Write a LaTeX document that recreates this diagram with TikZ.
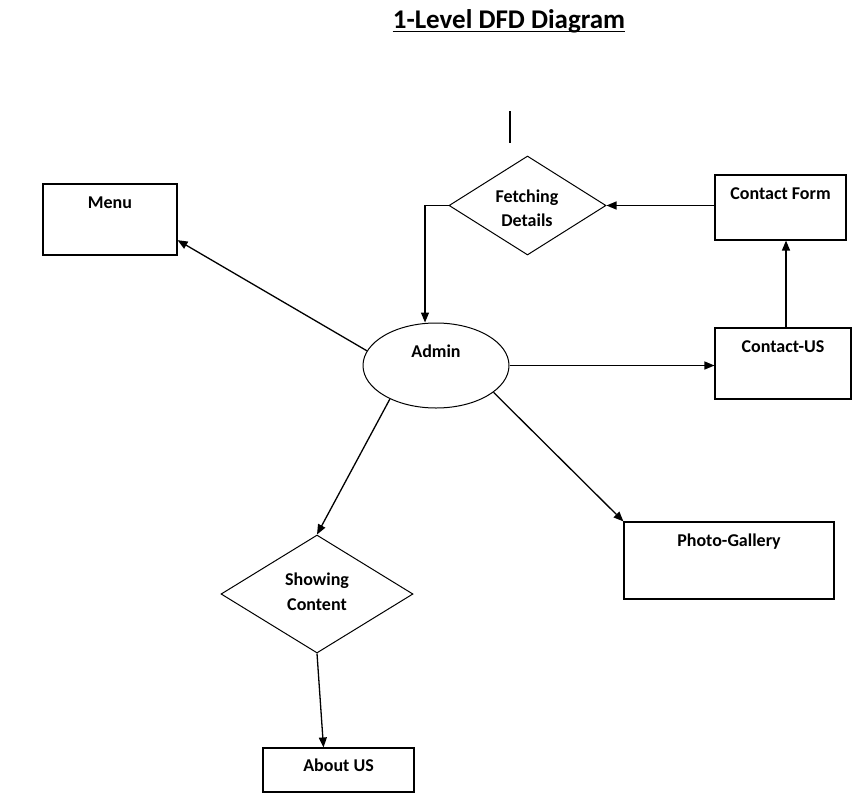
\documentclass[tikz,border=0pt]{standalone}
\usepackage{fontspec}
\setmainfont{Carlito}
\usetikzlibrary{shapes.geometric,arrows.meta}
\tikzset{
  box/.style={draw, line width=1.1pt, rectangle, inner sep=0pt},
  dia/.style={draw, line width=1pt, diamond, inner sep=0pt},
  ell/.style={draw, line width=1pt, ellipse, inner sep=0pt},
  lbl/.style={font=\fontsize{18}{21}\selectfont\bfseries, anchor=base, inner sep=0pt},
  arr/.style={line width=1.3pt, -{Triangle[length=10pt,width=8pt]}},
  plain/.style={line width=1.3pt},
}
\begin{document}
\begin{tikzpicture}[x=1pt,y=-1pt]
\useasboundingbox (0,0) rectangle (866,803);
% title
\node[font=\fontsize{27}{32}\selectfont\bfseries, anchor=base, inner sep=0pt] (title) at (509,28) {1-Level DFD Diagram};
\draw[line width=1.8pt] (title.base west |- 0,31.5) -- (title.base east |- 0,31.5);
% stray mark
\coordinate (s1) at (510,111);
\coordinate (s2) at (510,143);
\draw[line width=2pt] (s1) -- (s2);
% nodes
\node[box, minimum width=134pt, minimum height=71pt] (menu) at (110,219.5) {};
\node[lbl] (menuT) at (110,208) {Menu};
\node[box, minimum width=131pt, minimum height=65pt] (cform) at (780.5,207.5) {};
\node[lbl] (cformT) at (780.5,199) {Contact Form};
\node[dia, minimum width=157pt, minimum height=99pt] (fetch) at (527.5,205.5) {};
\node[lbl] (fetchT1) at (527,202.5) {Fetching};
\node[lbl] (fetchT2) at (527,226.5) {Details};
\node[ell, minimum width=146pt, minimum height=85pt] (admin) at (436,365.5) {};
\node[lbl] (adminT) at (436,357.5) {Admin};
\node[box, minimum width=136pt, minimum height=71pt] (cus) at (783,363.5) {};
\node[lbl] (cusT) at (783,352.5) {Contact-US};
\node[box, minimum width=210pt, minimum height=77pt] (photo) at (729,560.5) {};
\node[lbl] (photoT) at (729,546.5) {Photo-Gallery};
\node[dia, minimum width=192pt, minimum height=118pt] (show) at (317,594) {};
\node[lbl] (showT1) at (317,585.5) {Showing};
\node[lbl] (showT2) at (317,610.5) {Content};
\node[box, minimum width=151pt, minimum height=44pt] (about) at (338.5,770) {};
\node[lbl] (aboutT) at (338.5,771.5) {About US};
% connectors
\draw[arr] (admin.168) -- (menu.-17.8);
\draw[arr] (admin.east) -- (admin.east -| cus.west);
\draw[arr] (admin.-25) -- (photo.north west);
\draw[arr] (admin.-144.5) -- (show.north);
\draw[arr] (fetch.west) -| ([xshift=-11pt]admin.north);
\draw[arr] (cform.west |- fetch.east) -- (fetch.east);
\draw[arr] ([xshift=3pt]cus.north) -- ([xshift=3pt]cus.north |- cform.south);
\draw[arr] (show.south) -- ([xshift=-15pt]about.north);
\end{tikzpicture}
\end{document}
